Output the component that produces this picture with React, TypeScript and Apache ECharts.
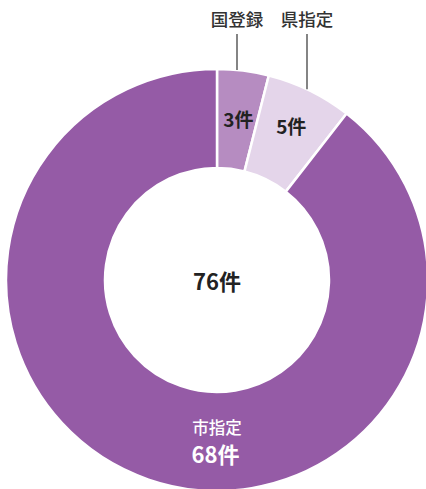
import React, { useEffect, useRef } from "react";
import * as echarts from "echarts";

const categories = ["国登録", "県指定", "市指定"];
const values = [3, 5, 68];
const unit = "件";
const colors = ["#b68cc1", "#e4d5ea", "#955ba6"];

export default function App() {
  const ref = useRef<HTMLDivElement>(null);
  useEffect(() => {
    if (!ref.current) return;
    const chart = echarts.init(ref.current, null, { renderer: "svg" });
    const total = values.reduce((a, b) => a + b, 0);
    const font = '"Noto Sans CJK JP", "Noto Sans", sans-serif';
    const cx = 217, cy = 280, r0 = 112, r1 = 211;
    const startAngle = 90;
    const callouts: any[] = [];
    const calloutX = [237, 307];
    values.forEach((v, i) => {
      if (i >= 2) return;
      const x = calloutX[i];
      const dx = x - cx;
      const yEdge = cy - Math.sqrt(r1 * r1 - dx * dx);
      callouts.push({
        type: "line",
        shape: { x1: x, y1: 34, x2: x, y2: yEdge },
        style: { stroke: "#333", lineWidth: 1.2 },
        z: 10,
      });
      callouts.push({
        type: "text",
        x: x,
        y: 18,
        style: {
          text: categories[i],
          fill: "#333",
          font: `500 17.5px ${font}`,
          textAlign: "center",
          textVerticalAlign: "middle",
        },
        z: 10,
      });
    });
    // name of the large slice, drawn above its value label
    callouts.push({
      type: "text",
      x: cx,
      y: 427,
      style: {
        text: categories[2],
        fill: "#fff",
        font: `500 16.5px ${font}`,
        textAlign: "center",
        textVerticalAlign: "middle",
      },
      z: 10,
    });
    chart.setOption({
      animation: false,
      series: [
        {
          type: "pie",
          center: [cx, cy],
          radius: [r0, r1],
          startAngle,
          clockwise: true,
          avoidLabelOverlap: false,
          itemStyle: { borderColor: "#fff", borderWidth: 2.5 },
          label: {
            show: true,
            position: "inside",
            fontFamily: font,
            fontWeight: "bold",
            fontSize: 19,
            color: "#222",
            formatter: (p: any) => `${p.value}${unit}`,
          },
          labelLine: { show: false },
          emphasis: { disabled: true },
          data: values.map((v, i) => {
            const d: any = {
              name: categories[i],
              value: v,
              itemStyle: { color: colors[i] },
            };
            if (i === 0) d.label = { offset: [1, 2] };
            if (i === 1) d.label = { offset: [2, -7] };
            if (i === 2)
              d.label = {
                offset: [52, 17],
                color: "#fff",
                fontSize: 22,
              };
            return d;
          }),
        },
      ],
      graphic: [
        {
          type: "text",
          x: cx,
          y: cy,
          style: {
            text: `${total}${unit}`,
            fill: "#222",
            font: `bold 22px ${font}`,
            textAlign: "center",
            textVerticalAlign: "middle",
          },
        },
        ...callouts,
      ],
    });
    return () => chart.dispose();
  }, []);
  return (
    <div
      ref={ref}
      style={{ position: "fixed", left: 0, top: 0, width: 426, height: 489, background: "#fff" }}
    />
  );
}
